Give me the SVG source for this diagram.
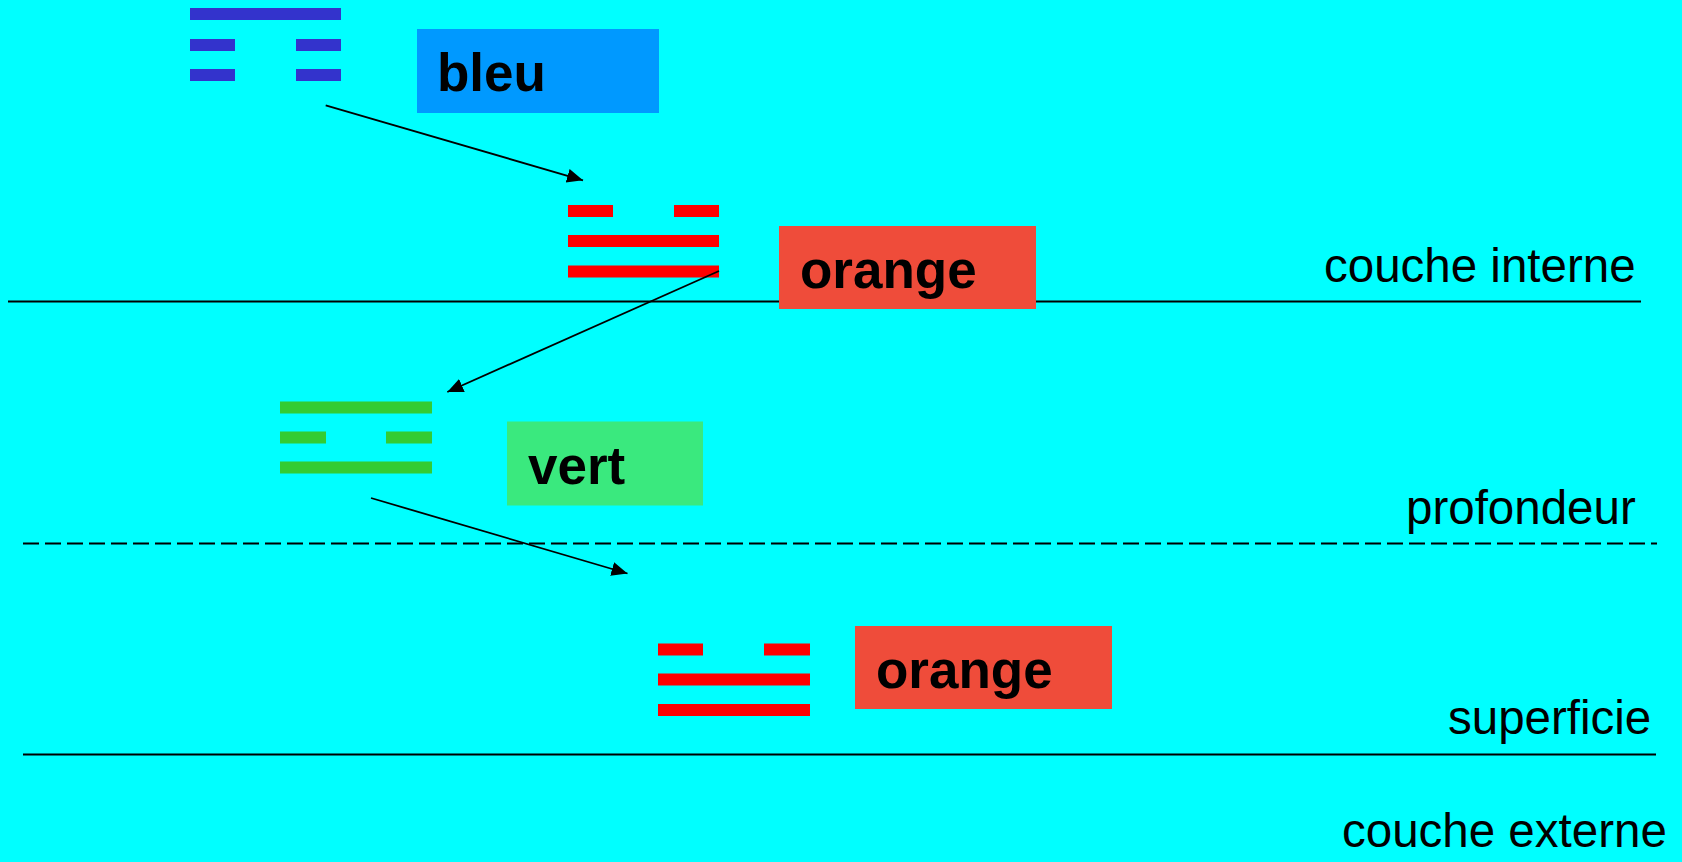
<svg xmlns="http://www.w3.org/2000/svg" width="1682" height="862" viewBox="0 0 1682 862">
<style>
.lbl{font-family:"Liberation Sans",Arial,sans-serif;font-weight:bold;font-size:53px;fill:#000}
.zone{font-family:"Liberation Sans",Arial,sans-serif;font-size:47.5px;fill:#000}
.blue{fill:#3333CC}
.red{fill:#FF0000}
.green{fill:#33CC33}
.sep{stroke:#000;stroke-width:2;fill:none}
.arr{stroke:#000;stroke-width:1.8;fill:none;marker-end:url(#ah)}
</style>
<defs>
<marker id="ah" markerUnits="userSpaceOnUse" markerWidth="18" markerHeight="16" refX="16" refY="7" orient="auto">
<path d="M0,0 L16,7 L0,14 z" fill="#000"/>
</marker>
</defs>
<rect width="1682" height="862" fill="#00FFFF"/>
<g id="separators">
<line class="sep" x1="8" y1="301.5" x2="1641" y2="301.5"/>
<line class="sep" x1="23" y1="543.5" x2="1657" y2="543.5" stroke-dasharray="16 6"/>
<line class="sep" x1="23" y1="754.5" x2="1656" y2="754.5"/>
</g>
<g id="zone-labels">
<text class="zone" x="1324" y="281.5">couche interne</text>
<text class="zone" x="1406" y="524">profondeur</text>
<text class="zone" x="1448" y="734">superficie</text>
<text class="zone" x="1342" y="847">couche externe</text>
</g>
<g id="trigram-bleu" class="blue">
<rect x="190" y="8" width="151" height="12"/>
<rect x="190" y="39" width="45" height="12"/>
<rect x="296" y="39" width="45" height="12"/>
<rect x="190" y="69" width="45" height="12"/>
<rect x="296" y="69" width="45" height="12"/>
</g>
<g id="label-bleu">
<rect x="417" y="29" width="242" height="84" fill="#0099FF"/>
<text class="lbl" x="437" y="90.5">bleu</text>
</g>
<g id="trigram-orange-1" class="red">
<rect x="568" y="205" width="45" height="12"/>
<rect x="674" y="205" width="45" height="12"/>
<rect x="568" y="235" width="151" height="12"/>
<rect x="568" y="265.5" width="151" height="12"/>
</g>
<g id="label-orange-1">
<rect x="779" y="226" width="257" height="83" fill="#EF4C3A"/>
<text class="lbl" x="800" y="288">orange</text>
</g>
<g id="trigram-vert" class="green">
<rect x="280" y="401.5" width="152" height="12"/>
<rect x="280" y="431.5" width="46" height="12"/>
<rect x="386" y="431.5" width="46" height="12"/>
<rect x="280" y="461.5" width="152" height="12"/>
</g>
<g id="label-vert">
<rect x="507" y="421.5" width="196" height="84" fill="#3AE97E"/>
<text class="lbl" x="528" y="484">vert</text>
</g>
<g id="trigram-orange-2" class="red">
<rect x="658" y="643.5" width="45" height="12"/>
<rect x="764" y="643.5" width="46" height="12"/>
<rect x="658" y="673.5" width="152" height="12"/>
<rect x="658" y="704" width="152" height="12"/>
</g>
<g id="label-orange-2">
<rect x="855" y="626" width="257" height="83" fill="#EF4C3A"/>
<text class="lbl" x="876" y="688">orange</text>
</g>
<g id="connectors">
<line class="arr" x1="325.7" y1="105.3" x2="583" y2="180.3"/>
<line class="arr" x1="719" y1="271" x2="447.3" y2="392"/>
<line class="arr" x1="371" y1="498" x2="627.5" y2="573.5"/>
</g>
</svg>
